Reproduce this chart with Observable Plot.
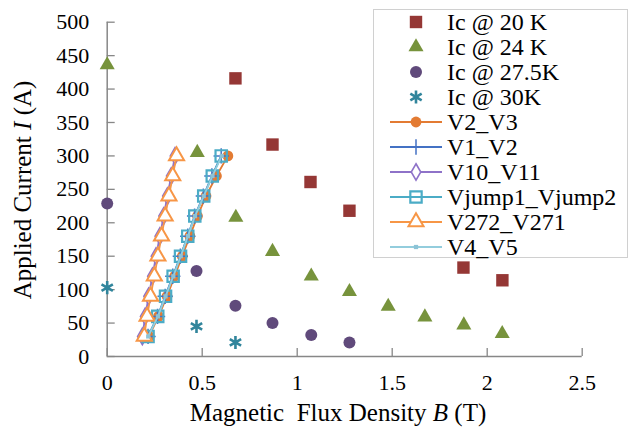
<!DOCTYPE html>
<html><head><meta charset="utf-8">
<script src="https://cdn.jsdelivr.net/npm/d3@7"></script>
<script src="https://cdn.jsdelivr.net/npm/@observablehq/plot@0.6"></script>
<style>
body{margin:0;background:#fff;}
#wrap{position:relative;width:629px;height:443px;font-family:"Liberation Serif","Times New Roman",serif;}
#legend{position:absolute;left:373px;top:9px;}
</style></head><body><div id="wrap"></div>
<script>
// ---- data ----
const xTicks = [0, 0.5, 1, 1.5, 2, 2.5];
const yTicks = [0, 50, 100, 150, 200, 250, 300, 350, 400, 450, 500];

const ic20B = [0.675, 0.87, 1.07, 1.275, 1.875, 2.08];
const ic20I = [416, 317, 261, 218, 133, 114];
const ic24B = [0, 0.474, 0.677, 0.87, 1.074, 1.275, 1.479, 1.672, 1.877, 2.079];
const ic24I = [436, 305, 208, 157, 120, 97, 75, 59, 47, 34];
const ic275B = [0, 0.47, 0.675, 0.87, 1.074, 1.275];
const ic275I = [229, 128, 76, 50, 32, 21];
const ic30B = [0, 0.47, 0.675];
const ic30I = [103, 45, 21];

const current = [30, 60, 90, 120, 150, 180, 210, 240, 270, 300];
const v2v3 = [0.22, 0.27, 0.315, 0.355, 0.395, 0.435, 0.475, 0.52, 0.575, 0.635];
const v1v2 = [0.215, 0.265, 0.305, 0.345, 0.385, 0.424, 0.46, 0.506, 0.551, 0.60];
const v10v11 = [0.185, 0.2, 0.218, 0.238, 0.257, 0.277, 0.297, 0.317, 0.337, 0.357];
const vjump = [0.215, 0.266, 0.307, 0.347, 0.386, 0.424, 0.461, 0.508, 0.553, 0.60];
const v272 = [0.195, 0.21, 0.228, 0.248, 0.267, 0.286, 0.305, 0.325, 0.345, 0.365];
const v4v5 = [0.216, 0.267, 0.307, 0.348, 0.387, 0.425, 0.462, 0.508, 0.554, 0.603];

// ---- styles ----
const axisColor = "#878787";
const font = "Liberation Serif, Times New Roman, serif";
const scatter = [
  {name: "Ic @ 20 K", b: ic20B, i: ic20I, symbol: "square", r: 7, fill: "#953735", stroke: "none", sw: 0},
  {name: "Ic @ 24 K", b: ic24B, i: ic24I, symbol: "triangle", r: 5.6, fill: "#77933C", stroke: "none", sw: 0},
  {name: "Ic @ 27.5K", b: ic275B, i: ic275I, symbol: "circle", r: 6, fill: "#604A7B", stroke: "none", sw: 0},
  {name: "Ic @ 30K", b: ic30B, i: ic30I, symbol: "asterisk", r: 6.2, fill: "none", stroke: "#31859C", sw: 2.6}
];
const lines = [
  {name: "V2_V3", b: v2v3, color: "#E37B33", symbol: "circle", r: 5.4, fill: "#E37B33", stroke: "none", sw: 0},
  {name: "V1_V2", b: v1v2, color: "#4472C4", symbol: "plus", r: 5, fill: "none", stroke: "#4472C4", sw: 1.5},
  {name: "V10_V11", b: v10v11, color: "#8E72C8", symbol: "diamond", r: 5, fill: "#fff", stroke: "#8E72C8", sw: 1.6},
  {name: "Vjump1_Vjump2", b: vjump, color: "#4BACC6", symbol: "square", r: 6.4, fill: "none", stroke: "#4BACC6", sw: 2.2},
  {name: "V272_V271", b: v272, color: "#F79646", symbol: "triangle", r: 5.6, fill: "#fff", stroke: "#F79646", sw: 2},
  {name: "V4_V5", b: v4v5, color: "#93CDDD", symbol: "square", r: 2.4, fill: "#8CC3D6", stroke: "none", sw: 0}
];

const marks = [
  Plot.axisX({ticks: xTicks, tickSize: -8, tickFormat: () => "", stroke: axisColor, strokeWidth: 1.3, label: null}),
  Plot.axisY({ticks: yTicks, tickSize: -8, tickFormat: () => "", stroke: axisColor, strokeWidth: 1.3, label: null}),
  Plot.axisX({ticks: xTicks, tickSize: 0, tickPadding: 18, tickFormat: d => String(d), fontSize: 22, fill: "#000", label: null}),
  Plot.axisY({ticks: yTicks, tickSize: 0, tickPadding: 18, tickFormat: d => String(d), fontSize: 22, fill: "#000", label: null}),
  Plot.ruleX([0], {stroke: axisColor, strokeWidth: 1.5}),
  Plot.ruleY([0], {stroke: axisColor, strokeWidth: 1.5})
];
for (const s of scatter) {
  const data = s.b.map((b, k) => ({b, i: s.i[k]}));
  marks.push(Plot.dot(data, {x: "b", y: "i", symbol: s.symbol, r: s.r, fill: s.fill, stroke: s.stroke, strokeWidth: s.sw}));
}
for (const s of lines) {
  const data = s.b.map((b, k) => ({b, i: current[k]}));
  marks.push(Plot.line(data, {x: "b", y: "i", stroke: s.color, strokeWidth: 1.8}));
  marks.push(Plot.dot(data, {x: "b", y: "i", symbol: s.symbol, r: s.r, fill: s.fill, stroke: s.stroke, strokeWidth: s.sw}));
}

const plot = Plot.plot({
  width: 629, height: 443,
  marginLeft: 106.7, marginRight: 47.3, marginTop: 21.7, marginBottom: 87,
  x: {domain: [0, 2.5]},
  y: {domain: [0, 500]},
  style: {fontFamily: font, fontSize: "22px", color: "#000", background: "#fff", overflow: "visible"},
  marks
});
document.getElementById("wrap").appendChild(plot);

// axis titles with italic symbols
const svg = d3.select(plot);
const yl = svg.append("text").attr("transform", "translate(31,190) rotate(-90)")
  .attr("text-anchor", "middle").attr("font-size", 25).attr("font-family", font).attr("fill", "#000");
yl.append("tspan").text("Applied Current ");
yl.append("tspan").attr("font-style", "italic").text("I");
yl.append("tspan").text(" (A)");
const xl = svg.append("text").attr("x", 338).attr("y", 421)
  .attr("text-anchor", "middle").attr("font-size", 25).attr("font-family", font).attr("fill", "#000");
xl.append("tspan").text("Magnetic\u00A0 Flux Density ");
xl.append("tspan").attr("font-style", "italic").text("B");
xl.append("tspan").text(" (T)");

// legend
const lg = d3.select("#wrap").append("svg").attr("id", "legend").attr("width", 256).attr("height", 250);
lg.append("rect").attr("x", 0.5).attr("y", 0.5).attr("width", 254).attr("height", 248)
  .attr("fill", "#fff").attr("stroke", "#d0d0d0");
const entries = [...scatter.map(s => ({...s, line: false})), ...lines.map(s => ({...s, line: true}))];
const symMap = {square: d3.symbolSquare, triangle: d3.symbolTriangle, circle: d3.symbolCircle,
  asterisk: d3.symbolAsterisk, plus: d3.symbolPlus, diamond: d3.symbolDiamond};
entries.forEach((e, k) => {
  const cy = 13 + 25 * k;
  const g = lg.append("g");
  if (e.line) g.append("line").attr("x1", 17).attr("x2", 69).attr("y1", cy).attr("y2", cy)
    .attr("stroke", e.color).attr("stroke-width", 1.8);
  g.append("path").attr("transform", `translate(43,${cy})`)
    .attr("d", d3.symbol(symMap[e.symbol], Math.PI * e.r * e.r)())
    .attr("fill", e.fill).attr("stroke", e.stroke).attr("stroke-width", e.sw);
  g.append("text").attr("x", 74).attr("y", cy + 8).attr("font-size", 24).attr("font-family", font)
    .attr("fill", "#000").text(e.name);
});
</script>
</body></html>
